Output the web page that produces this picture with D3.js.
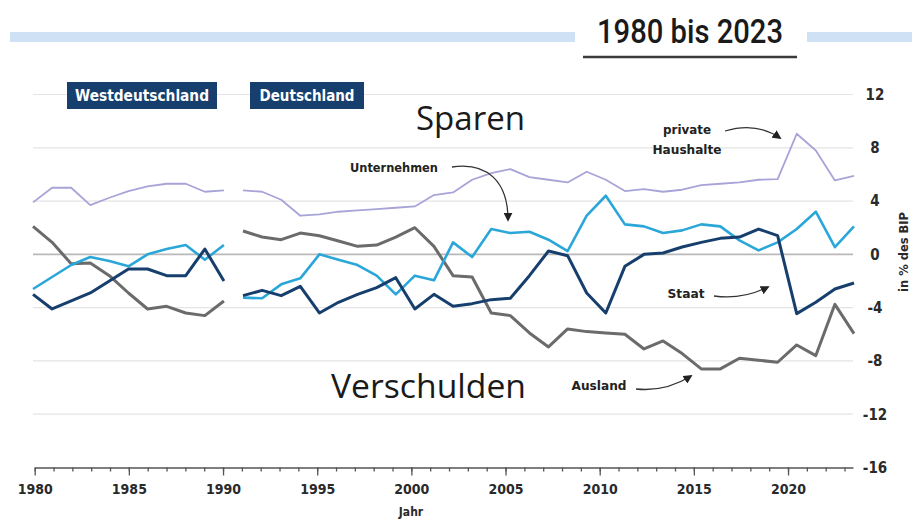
<!DOCTYPE html>
<html><head><meta charset="utf-8">
<script src="https://cdn.jsdelivr.net/npm/d3@7"></script>
<style>body{margin:0;background:#fff}svg{display:block}</style>
</head><body><svg id="c" width="922" height="520"></svg>
<script>
// ---------- data ----------
const years = [1980,1981,1982,1983,1984,1985,1986,1987,1988,1989,1990,
  1991,1992,1993,1994,1995,1996,1997,1998,1999,2000,2001,2002,2003,2004,2005,
  2006,2007,2008,2009,2010,2011,2012,2013,2014,2015,2016,2017,2018,2019,2020,2021,2022,2023];
const lastWestYear = 1990;
const haushalte = [3.9,5.0,5.0,3.7,4.25,4.75,5.1,5.3,5.3,4.7,4.8,
  4.8,4.7,4.1,2.9,3.0,3.2,3.3,3.4,3.5,3.6,4.45,4.65,5.6,6.1,6.4,
  5.8,5.6,5.4,6.2,5.6,4.75,4.9,4.7,4.85,5.2,5.3,5.4,5.6,5.65,9.05,7.8,5.55,5.9];
const unternehmen = [-2.6,-1.7,-0.8,-0.2,-0.5,-0.9,0.0,0.4,0.7,-0.4,0.7,
  -3.25,-3.3,-2.25,-1.8,0.0,-0.4,-0.8,-1.6,-3.0,-1.6,-1.95,0.9,-0.2,1.9,1.6,
  1.7,1.1,0.25,2.9,4.4,2.25,2.1,1.6,1.8,2.25,2.1,1.05,0.3,0.9,1.9,3.2,0.55,2.1];
const staat = [-3.0,-4.1,-3.5,-2.9,-2.0,-1.1,-1.1,-1.6,-1.6,0.4,-2.0,
  -3.1,-2.7,-3.1,-2.4,-4.4,-3.6,-3.0,-2.5,-1.75,-4.1,-3.0,-3.9,-3.7,-3.4,-3.3,
  -1.6,0.25,-0.1,-2.9,-4.4,-0.9,0.0,0.1,0.55,0.9,1.2,1.3,1.9,1.4,-4.45,-3.6,-2.6,-2.15];
const ausland = [2.1,0.9,-0.7,-0.65,-1.6,-2.9,-4.1,-3.9,-4.4,-4.6,-3.5,
  1.75,1.3,1.1,1.6,1.4,1.0,0.6,0.7,1.3,2.0,0.6,-1.6,-1.7,-4.4,-4.6,
  -5.9,-6.95,-5.6,-5.8,-5.9,-6.0,-7.1,-6.5,-7.45,-8.6,-8.6,-7.8,-7.95,-8.1,-6.8,-7.6,-3.75,-5.95];
const yTicks = [12,8,4,0,-4,-8,-12,-16];
const xTickLabels = [1980,1985,1990,1995,2000,2005,2010,2015,2020];
const regionLabels = ["Westdeutschland","Deutschland"];
const titleText = "1980 bis 2023";

// ---------- setup ----------
const svg = d3.select("#c");
const COND = "'DejaVu Sans Condensed','Liberation Sans Narrow','Roboto',sans-serif";
const x = d3.scaleLinear().domain([1980, 2023]).range([33, 854]);          // data positions
const xAx = d3.scaleLinear().domain([1980, 2023.45]).range([34.7, 853]);   // axis ticks
const y = d3.scaleLinear().domain([-16, 12]).range([467.5, 94.5]);

svg.append("rect").attr("width",922).attr("height",520).attr("fill","#fff");

// top band + title
svg.append("rect").attr("x",10).attr("y",32).attr("width",565).attr("height",10).attr("fill","#cfe1f4");
svg.append("rect").attr("x",807).attr("y",32).attr("width",105).attr("height",10).attr("fill","#cfe1f4");
svg.append("text").attr("x",597).attr("y",43).text(titleText)
  .attr("font-family","Roboto,sans-serif").attr("font-weight",500).attr("font-size",34)
  .attr("textLength",186).attr("lengthAdjust","spacingAndGlyphs").attr("fill","#1a1a1a");
svg.append("line").attr("x1",583).attr("x2",797).attr("y1",57).attr("y2",57)
  .attr("stroke","#3a3a3a").attr("stroke-width",2.5);

// gridlines
svg.append("g").selectAll("line").data(yTicks.filter(d=>d!==-16)).join("line")
  .attr("x1",33).attr("x2",853).attr("y1",d=>y(d)).attr("y2",d=>y(d))
  .attr("stroke",d=>d===0?"#b9b9b9":"#e4e4e4").attr("stroke-width",d=>d===0?1.6:1.2);

// region badges
const badges = [{t:regionLabels[0], x0:67, w:150, tl:134},{t:regionLabels[1], x0:250, w:114, tl:95}];
badges.forEach(b=>{
  svg.append("rect").attr("x",b.x0).attr("y",82).attr("width",b.w).attr("height",27).attr("fill","#173f6d");
  svg.append("text").attr("x",b.x0+b.w/2).attr("y",101).attr("text-anchor","middle").text(b.t)
    .attr("font-family",COND).attr("font-weight","bold").attr("font-size",15).attr("fill","#fff")
    .attr("textLength",b.tl).attr("lengthAdjust","spacingAndGlyphs");
});

// big words
svg.append("text").attr("x",416).attr("y",130).text("Sparen")
  .attr("font-family","'Open Sans',sans-serif").attr("font-size",33).attr("fill","#1a1a1a")
  .attr("textLength",109).attr("lengthAdjust","spacingAndGlyphs");
svg.append("text").attr("x",331).attr("y",398).text("Verschulden")
  .attr("font-family","'Open Sans',sans-serif").attr("font-size",33).attr("fill","#1a1a1a")
  .attr("textLength",195).attr("lengthAdjust","spacingAndGlyphs");

// lines
const series = [
  {v:haushalte, c:"#a8a4d8", w:1.8},
  {v:ausland, c:"#6b6b6b", w:3},
  {v:unternehmen, c:"#2aa7d8", w:2.6},
  {v:staat, c:"#173f6d", w:3}
];
const line = d3.line().x(d=>x(d.year)).y(d=>y(d.v));
series.forEach(s=>{
  const pts = years.map((yr,i)=>({year:yr, v:s.v[i]}));
  [pts.filter(p=>p.year<=lastWestYear), pts.filter(p=>p.year>lastWestYear)].forEach(seg=>{
    svg.append("path").datum(seg).attr("d",line).attr("fill","none")
      .attr("stroke",s.c).attr("stroke-width",s.w).attr("stroke-linejoin","round");
  });
});

// x axis
const gx = svg.append("g").attr("transform","translate(0,467.5)");
gx.append("g").call(d3.axisBottom(xAx).tickValues(years).tickSize(4).tickSizeOuter(0).tickFormat(""))
  .call(g=>g.selectAll("line,path").attr("stroke","#555").attr("stroke-width",1.3));
gx.append("g").call(d3.axisBottom(xAx).tickValues(xTickLabels).tickSize(8).tickPadding(9).tickFormat(d3.format("d")))
  .call(g=>g.select(".domain").remove())
  .call(g=>g.selectAll("line").attr("stroke","#555").attr("stroke-width",1.3))
  .call(g=>g.selectAll("text").attr("font-family",COND).attr("font-weight","bold").attr("font-size",14).attr("fill","#2a2a2a"));
svg.append("text").attr("x",411).attr("y",516).attr("text-anchor","middle").text("Jahr")
  .attr("font-family",COND).attr("font-weight","bold").attr("font-size",12).attr("fill","#2a2a2a");

// y axis (right)
svg.append("g").attr("transform","translate(865,0)")
  .call(d3.axisRight(y).tickValues(yTicks).tickSize(0).tickPadding(10).tickFormat(d3.format("d")))
  .call(g=>g.select(".domain").remove())
  .call(g=>g.selectAll("text").attr("text-anchor","middle").attr("font-family",COND)
    .attr("font-weight","bold").attr("font-size",15).attr("fill","#2a2a2a").text(d=>String(d).replace("-","-")));
svg.append("text").attr("transform","translate(908,252) rotate(-90)").attr("text-anchor","middle").text("in % des BIP")
  .attr("font-family",COND).attr("font-weight","bold").attr("font-size",12).attr("fill","#2a2a2a")
  .attr("textLength",80).attr("lengthAdjust","spacingAndGlyphs");

// annotations
const defs = svg.append("defs");
defs.append("marker").attr("id","ah").attr("viewBox","0 0 10 10").attr("refX",8).attr("refY",5)
  .attr("markerWidth",9).attr("markerHeight",9).attr("markerUnits","userSpaceOnUse").attr("orient","auto")
  .append("path").attr("d","M0,0L10,5L0,10z").attr("fill","#222");
const notes = [
  {lines:["Unternehmen"], x:394, y:172, tl:[88], path:"M452,167 C488,162 508,182 508,220"},
  {lines:["private","Haushalte"], x:687, y:134, tl:[48,69], path:"M725,131 C745,125 764,127 780,138"},
  {lines:["Staat"], x:686, y:298, tl:[37], path:"M714,296 C735,299 752,295 768,287"},
  {lines:["Ausland"], x:599, y:390, tl:[55], path:"M636,389 C655,391 675,386 691,376"}
];
notes.forEach(n=>{
  n.lines.forEach((t,i)=>{
    svg.append("text").attr("x",n.x).attr("y",n.y+i*20).attr("text-anchor","middle").text(t)
      .attr("font-family",COND).attr("font-weight","bold").attr("font-size",13).attr("fill","#222")
      .attr("textLength",n.tl[i]).attr("lengthAdjust","spacingAndGlyphs");
  });
  svg.append("path").attr("d",n.path).attr("fill","none").attr("stroke","#333").attr("stroke-width",1.3)
    .attr("marker-end","url(#ah)");
});
</script></body></html>
